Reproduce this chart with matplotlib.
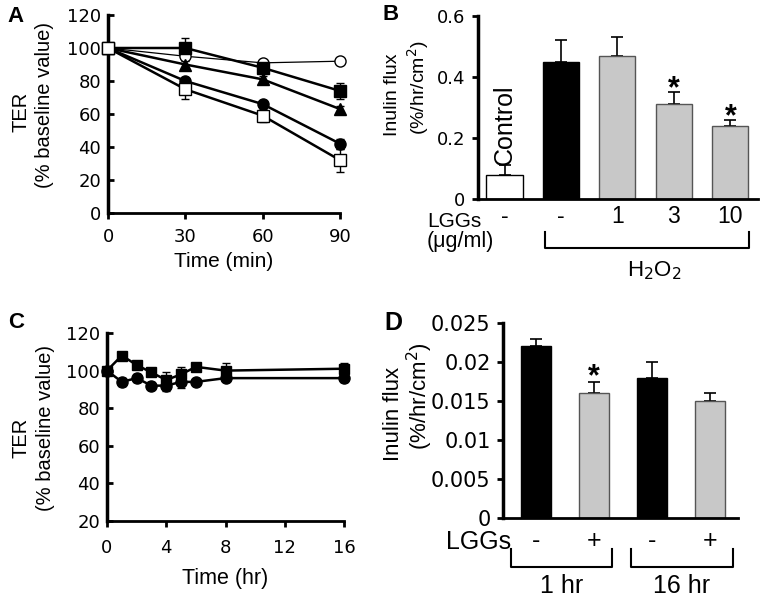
import matplotlib
matplotlib.use("Agg")
import matplotlib.pyplot as plt
import numpy as np

# ---------------- data ----------------
# Panel A
a_time = [0, 30, 60, 90]
a_open_circle = [100, 95, 91, 92]
a_open_circle_err = [2, 2, 1, 1]
a_fill_square = [100, 100, 88, 74]
a_fill_square_err = [3, 6, 2, 5]
a_fill_triangle = [100, 90, 81, 63]
a_fill_triangle_err = [3, 2, 2, 2]
a_fill_circle = [100, 80, 66, 42]
a_fill_circle_err = [3, 2, 2, 3]
a_open_square = [100, 75, 59, 32]
a_open_square_err = [3, 6, 4, 7]

# Panel B
b_labels = ["-", "-", "1", "3", "10"]
b_values = [0.08, 0.45, 0.47, 0.31, 0.24]
b_errors = [0.03, 0.07, 0.06, 0.04, 0.02]
b_colors = ["white", "black", "#c8c8c8", "#c8c8c8", "#c8c8c8"]
b_star = [False, False, False, True, True]

# Panel C
c_time = [0, 1, 2, 3, 4, 5, 6, 8, 16]
c_square = [100, 108, 103, 99, 95, 98, 102, 100, 101]
c_square_err = [1, 2, 1, 2, 4, 4, 2, 4, 3]
c_circle = [100, 94, 96, 92, 92, 94, 94, 96, 96]
c_circle_err = [1, 2, 2, 2, 3, 3, 1, 1, 2]

# Panel D
d_labels = ["-", "+", "-", "+"]
d_values = [0.022, 0.016, 0.018, 0.015]
d_errors = [0.001, 0.0015, 0.002, 0.001]
d_colors = ["black", "#c8c8c8", "black", "#c8c8c8"]
d_star = [False, True, False, False]
d_groups = ["1 hr", "16 hr"]

# ---------------- figure ----------------
W, H = 760, 600
fig = plt.figure(figsize=(W / 100, H / 100), dpi=100)
TICKF = "DejaVu Sans"
LABF = "Liberation Sans"


def ax_px(l, t, r, b):
    return fig.add_axes([l / W, 1 - b / H, (r - l) / W, (b - t) / H])


def px(x, y):
    return x / W, 1 - y / H


def style_axes(ax, ydir="in", xdir="out", size=12, xpad=7):
    for s in ["top", "right"]:
        ax.spines[s].set_visible(False)
    ax.spines["left"].set_linewidth(2.5)
    ax.spines["bottom"].set_linewidth(2.0)
    ax.tick_params(axis="y", direction=ydir, length=4, width=2, labelsize=size, pad=5)
    ax.tick_params(axis="x", direction=xdir, length=4, width=2, labelsize=size, pad=xpad)
    for lab in ax.get_xticklabels() + ax.get_yticklabels():
        lab.set_fontfamily(TICKF)


def vtext(x, y, text, size):
    fig.text(*px(x, y), text, rotation=90, ha="center", va="center",
             fontsize=size, fontfamily=LABF)


# ---- Panel A ----
axA = ax_px(108, 15, 340, 213)
series_A = [
    (a_open_circle, a_open_circle_err, "o", "white", 0.9),
    (a_fill_square, a_fill_square_err, "s", "black", 1.8),
    (a_fill_triangle, a_fill_triangle_err, "^", "black", 1.8),
    (a_fill_circle, a_fill_circle_err, "o", "black", 1.8),
    (a_open_square, a_open_square_err, "s", "white", 1.8),
]
for vals, errs, mk, fc, lw in series_A:
    axA.errorbar(a_time, vals, yerr=errs, color="black", lw=lw, marker=mk,
                 markersize=8, markerfacecolor=fc, markeredgecolor="black",
                 markeredgewidth=1, ecolor="black", elinewidth=1, capsize=3,
                 clip_on=False, zorder=3)
axA.set_xlim(0, 90)
axA.set_ylim(0, 120)
axA.set_xticks([0, 30, 60, 90])
axA.set_yticks(range(0, 121, 20))
style_axes(axA, ydir="in", xdir="out", size=13)
axA.set_xlabel("Time (min)", fontsize=15, fontfamily=LABF, labelpad=4)
vtext(21, 112, "TER", 14.5)
vtext(45, 105, "(% baseline value)", 14.5)

# ---- Panel B ----
axB = ax_px(478, 16, 758, 199)
xb = np.arange(len(b_values))
axB.bar(xb, b_values, width=0.64, color=b_colors,
        edgecolor=["black", "black", "#555555", "#555555", "#555555"],
        linewidth=1, zorder=2)
axB.errorbar(xb, b_values, yerr=[np.zeros(len(b_errors)), b_errors], fmt="none",
             ecolor="black", elinewidth=1.2, capsize=4, capthick=1.2, zorder=1)
for i, s in enumerate(b_star):
    if s:
        axB.text(xb[i], b_values[i] + b_errors[i] - 0.018, "*", ha="center",
                 va="baseline", fontsize=22, fontweight="bold", fontfamily=LABF)
axB.text(xb[0], b_values[0] + b_errors[0] + 0.003, "Control", rotation=90,
         ha="center", va="bottom", fontsize=18, fontfamily=LABF)
axB.set_xlim(-0.47, 4.49)
axB.set_ylim(0, 0.6)
axB.set_yticks([0, 0.2, 0.4, 0.6])
axB.set_yticklabels(["0", "0.2", "0.4", "0.6"])
axB.set_xticks([])
style_axes(axB, ydir="out", xdir="out", size=13)
vtext(392, 95, "Inulin flux", 14)
vtext(418, 88, "(%/hr/cm$^2$)", 14)
for i, lab in enumerate(b_labels):
    axB.text(xb[i], -0.057, lab, ha="center", va="center", fontsize=16.5,
             fontfamily=LABF, clip_on=False)
fig.text(*px(427, 221), "LGGs", ha="left", va="center", fontsize=15, fontfamily=LABF)
fig.text(*px(427, 242), "(\u03bcg/ml)", ha="left", va="center", fontsize=15.5,
         fontfamily=LABF)
bx = [545, 545, 749, 749]
by = [232, 248, 248, 232]
fig.add_artist(plt.Line2D([x / W for x in bx], [1 - y / H for y in by],
                          color="black", lw=1.5))
fig.text(*px(654, 271), "H$_2$O$_2$", ha="center", va="center", fontsize=16,
         fontfamily=LABF)

# ---- Panel C ----
axC = ax_px(107, 333, 344, 521)
axC.errorbar(c_time, c_square, yerr=c_square_err, color="black", lw=1.8,
             marker="s", markersize=7, ecolor="black", elinewidth=1, capsize=3,
             clip_on=False, zorder=3)
axC.errorbar(c_time, c_circle, yerr=c_circle_err, color="black", lw=1.8,
             marker="o", markersize=8, ecolor="black", elinewidth=1, capsize=3,
             clip_on=False, zorder=3)
axC.set_xlim(0, 16)
axC.set_ylim(20, 120)
axC.set_xticks([0, 4, 8, 12, 16])
axC.set_yticks(range(20, 121, 20))
style_axes(axC, ydir="in", xdir="out", size=13, xpad=9)
axC.set_xlabel("Time (hr)", fontsize=15.5, fontfamily=LABF, labelpad=8)
vtext(21, 438, "TER", 14.5)
vtext(46, 428, "(% baseline value)", 14.5)

# ---- Panel D ----
axD = ax_px(503, 323, 738, 518)
xd = np.arange(len(d_values))
axD.bar(xd, d_values, width=0.52, color=d_colors,
        edgecolor=["black", "#555555", "black", "#555555"], linewidth=1, zorder=2)
axD.errorbar(xd, d_values, yerr=[np.zeros(len(d_errors)), d_errors], fmt="none",
             ecolor="black", elinewidth=1.2, capsize=4, capthick=1.2, zorder=1)
for i, s in enumerate(d_star):
    if s:
        axD.text(xd[i], d_values[i] + d_errors[i] - 0.0005, "*", ha="center",
                 va="baseline", fontsize=22, fontweight="bold", fontfamily=LABF)
axD.set_xlim(-0.57, 3.49)
axD.set_ylim(0, 0.025)
axD.set_yticks([0, 0.005, 0.01, 0.015, 0.02, 0.025])
axD.set_yticklabels(["0", "0.005", "0.01", "0.015", "0.02", "0.025"])
axD.set_xticks([])
style_axes(axD, ydir="out", xdir="out", size=15)
vtext(394, 414, "Inulin flux", 16)
vtext(420, 396, "(%/hr/cm$^2$)", 16)
for i, lab in enumerate(d_labels):
    axD.text(xd[i], -0.0029, lab, ha="center", va="center", fontsize=18,
             fontfamily=LABF, clip_on=False)
fig.text(*px(446, 542), "LGGs", ha="left", va="center", fontsize=18, fontfamily=LABF)
for (l, r), g in zip([(511, 612), (631, 733)], d_groups):
    fig.add_artist(plt.Line2D([l / W, l / W, r / W, r / W],
                              [1 - 549 / H, 1 - 567 / H, 1 - 567 / H, 1 - 549 / H],
                              color="black", lw=1.5))
    fig.text(*px((l + r) / 2, 586), g, ha="center", va="center", fontsize=18,
             fontfamily=LABF)

# panel letters
for letter, (x, y), fs in zip("ABCD", [(16, 16), (391, 14), (16, 323), (393, 323)],
                              [16, 16, 16, 18]):
    fig.text(*px(x, y), letter, ha="center", va="center", fontsize=fs,
             fontweight="bold", fontfamily=LABF)

fig.savefig("out.png", dpi=100)
